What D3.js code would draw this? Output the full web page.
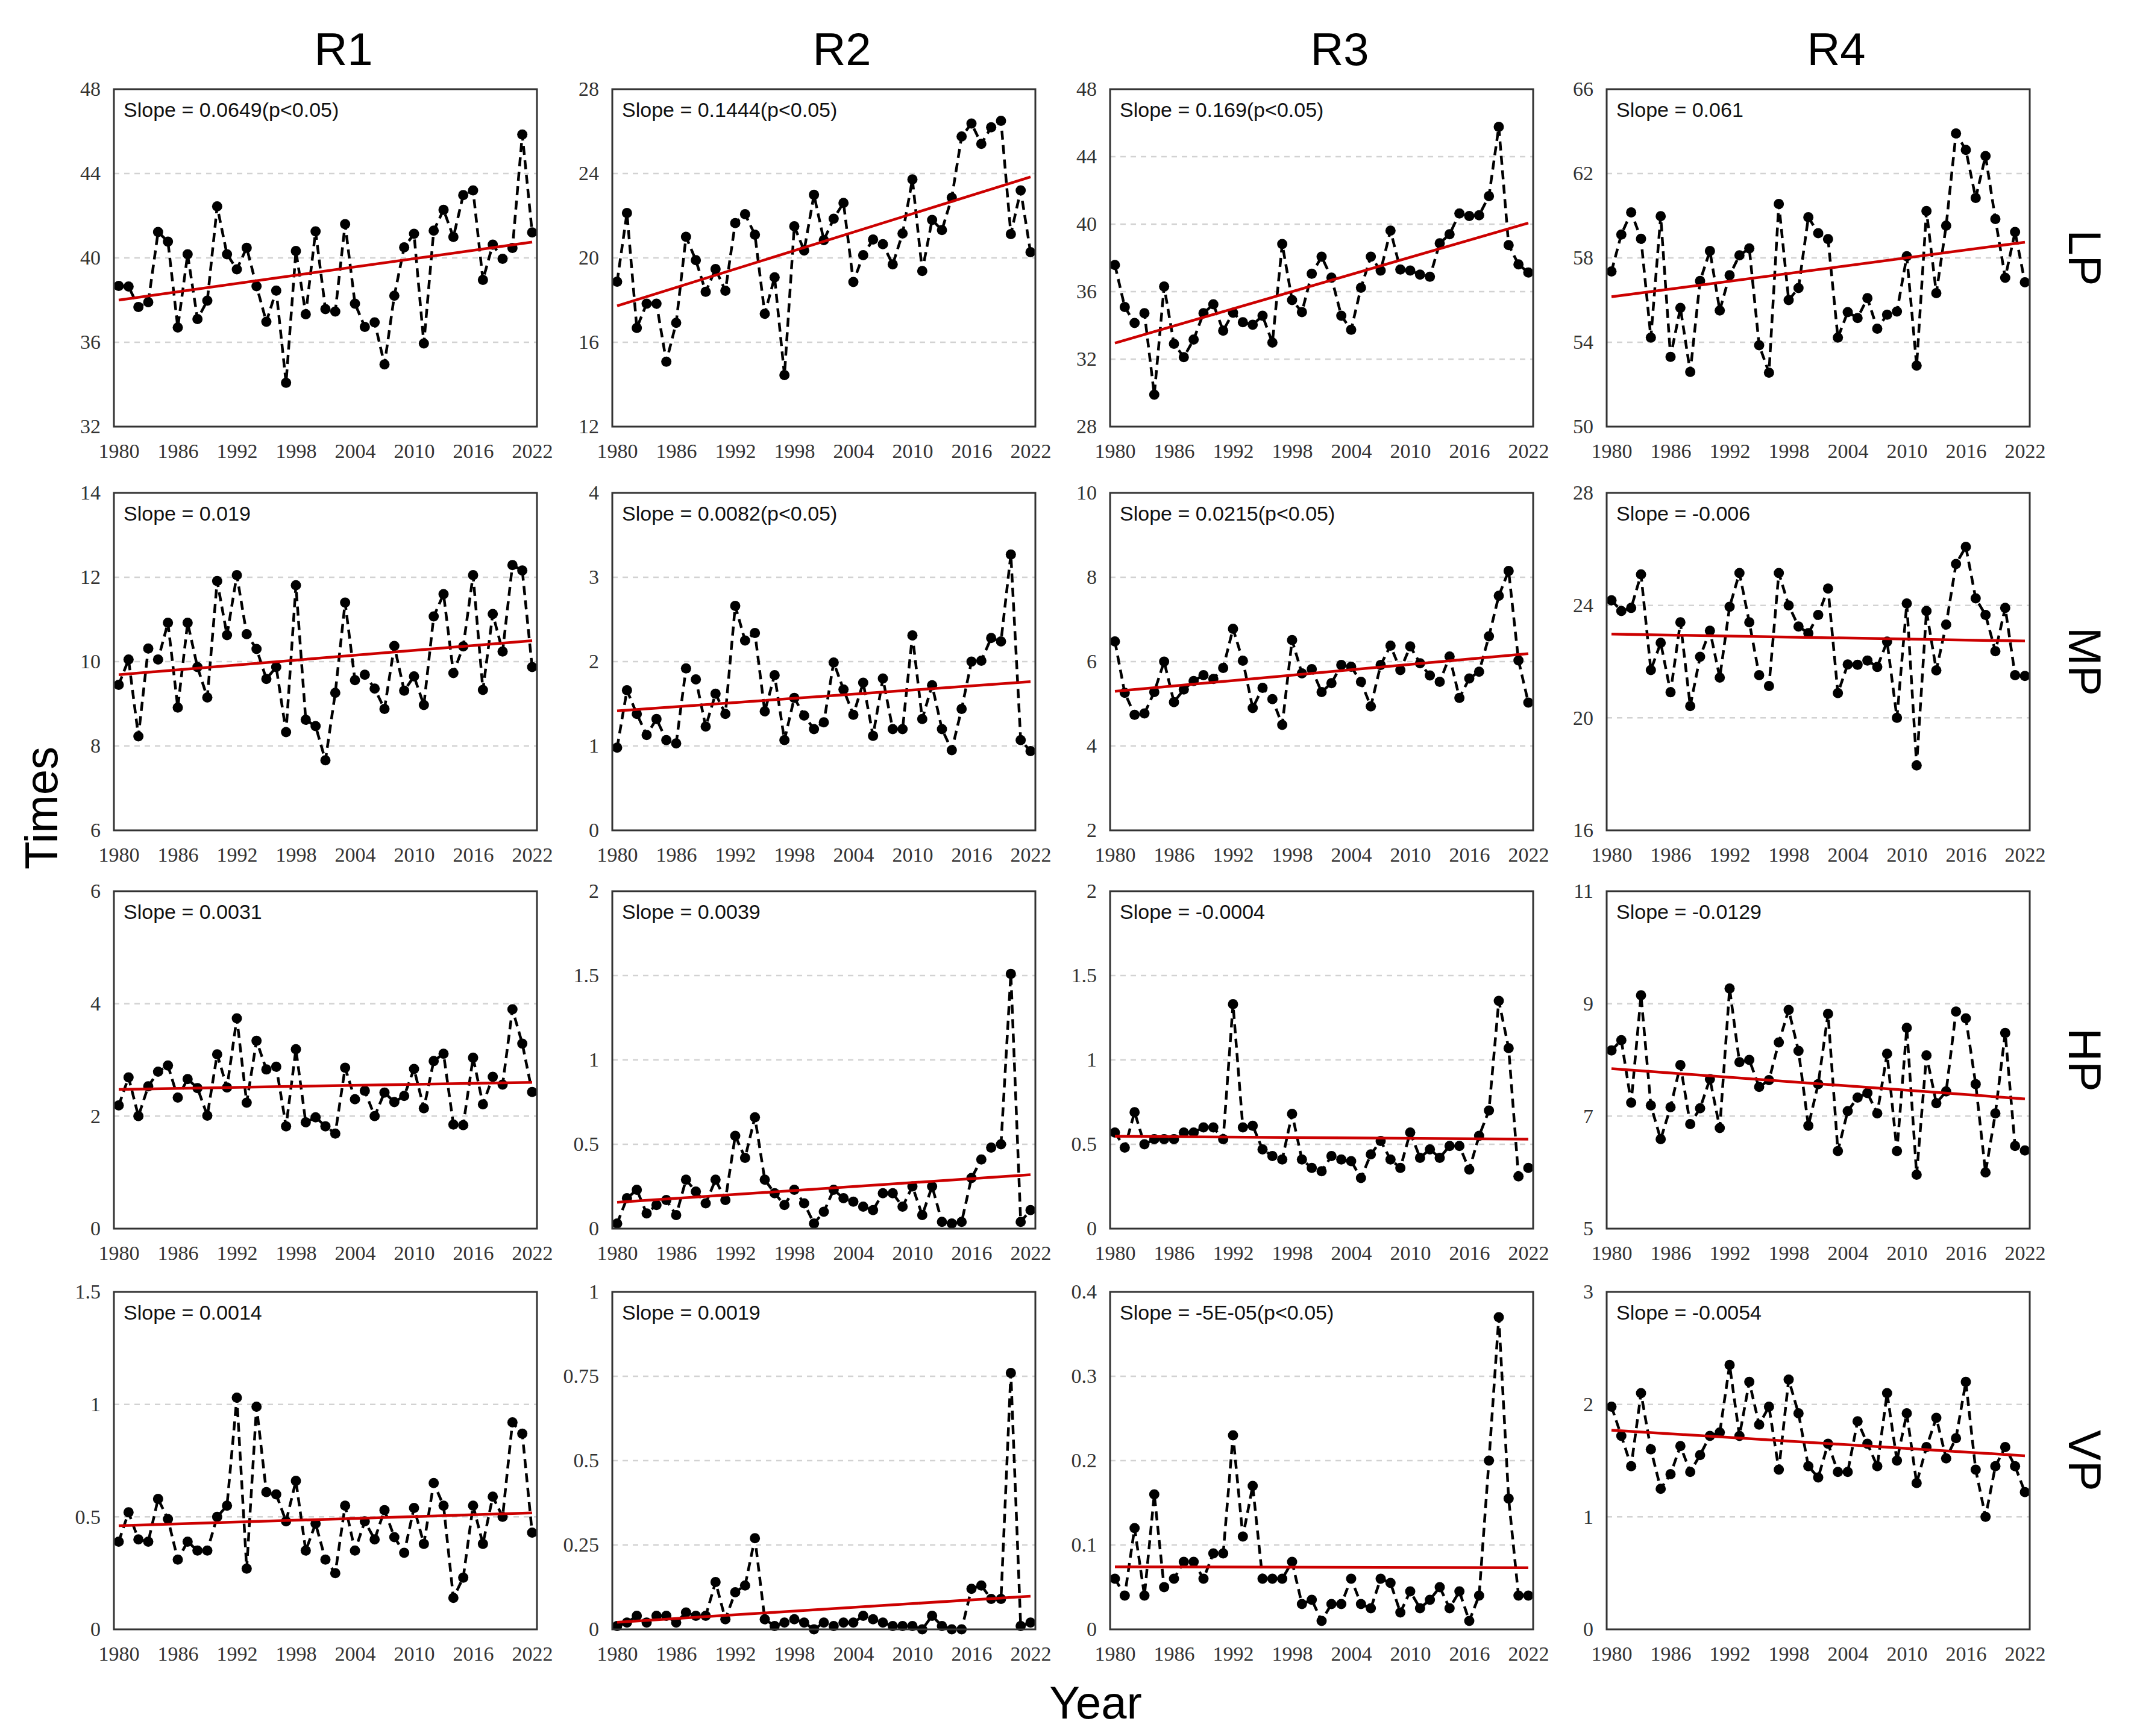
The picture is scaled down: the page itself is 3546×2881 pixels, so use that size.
<!DOCTYPE html>
<html>
<head>
<meta charset="utf-8">
<script src="https://cdn.jsdelivr.net/npm/d3@7/dist/d3.min.js"></script>
<style>
  body { margin: 0; background: #fff; }
</style>
</head>
<body>
<div class="chart"></div>
<script>
var svgWidth = 3546;
var svgHeight = 2881;

// years on the x axis
var years = [1980, 1981, 1982, 1983, 1984, 1985, 1986, 1987, 1988, 1989,
  1990, 1991, 1992, 1993, 1994, 1995, 1996, 1997, 1998, 1999,
  2000, 2001, 2002, 2003, 2004, 2005, 2006, 2007, 2008, 2009,
  2010, 2011, 2012, 2013, 2014, 2015, 2016, 2017, 2018, 2019,
  2020, 2021, 2022];
var yearTicks = [1980, 1986, 1992, 1998, 2004, 2010, 2016, 2022];

var regions = ["R1", "R2", "R3", "R4"];
var levels = ["LP", "MP", "HP", "VP"];

// LP row
var lpR1 = [38.67, 38.64, 37.67, 37.9, 41.23, 40.77, 36.7, 40.17, 37.1, 37.97,
  42.44, 40.17, 39.46, 40.48, 38.66, 36.97, 38.45, 34.08, 40.33, 37.33,
  41.26, 37.57, 37.46, 41.6, 37.83, 36.73, 36.94, 34.95, 38.21, 40.5,
  41.14, 35.94, 41.29, 42.28, 40.99, 42.98, 43.2, 38.96, 40.63, 39.96,
  40.47, 45.85, 41.21];
var lpR2 = [18.87, 22.13, 16.68, 17.83, 17.83, 15.08, 16.92, 21.0, 19.89, 18.39,
  19.47, 18.44, 21.65, 22.07, 21.1, 17.35, 19.08, 14.44, 21.5, 20.35,
  22.99, 20.84, 21.86, 22.61, 18.86, 20.13, 20.87, 20.65, 19.69, 21.16,
  23.72, 19.38, 21.8, 21.32, 22.86, 25.76, 26.37, 25.41, 26.19, 26.5,
  21.13, 23.2, 20.27];
var lpR3 = [37.58, 35.09, 34.14, 34.72, 29.89, 36.3, 32.91, 32.12, 33.16, 34.72,
  35.25, 33.69, 34.75, 34.19, 34.04, 34.57, 32.98, 38.82, 35.5, 34.79,
  37.06, 38.07, 36.83, 34.57, 33.74, 36.23, 38.07, 37.25, 39.62, 37.31,
  37.25, 37.01, 36.88, 38.87, 39.4, 40.63, 40.48, 40.53, 41.66, 45.77,
  38.76, 37.62, 37.13];
var lpR4 = [57.36, 59.11, 60.16, 58.91, 54.22, 59.98, 53.31, 55.63, 52.59, 56.91,
  58.33, 55.51, 57.18, 58.12, 58.45, 53.86, 52.56, 60.56, 56.0, 56.57,
  59.93, 59.17, 58.89, 54.22, 55.43, 55.15, 56.09, 54.64, 55.31, 55.46,
  58.08, 52.89, 60.22, 56.33, 59.53, 63.9, 63.12, 60.84, 62.83, 59.84,
  57.06, 59.23, 56.84];

// MP row
var mpR1 = [9.45, 10.05, 8.23, 10.31, 10.05, 10.92, 8.91, 10.92, 9.87, 9.15,
  11.91, 10.63, 12.05, 10.65, 10.3, 9.59, 9.87, 8.33, 11.81, 8.62,
  8.47, 7.66, 9.26, 11.4, 9.56, 9.69, 9.36, 8.88, 10.37, 9.31,
  9.65, 8.97, 11.07, 11.6, 9.73, 10.36, 12.05, 9.33, 11.13, 10.24,
  12.29, 12.16, 9.87];
var mpR2 = [0.98, 1.66, 1.38, 1.13, 1.32, 1.07, 1.03, 1.92, 1.79, 1.23,
  1.62, 1.38, 2.66, 2.25, 2.34, 1.41, 1.84, 1.07, 1.57, 1.36,
  1.2, 1.28, 1.99, 1.67, 1.37, 1.75, 1.12, 1.8, 1.2, 1.2,
  2.31, 1.32, 1.72, 1.2, 0.95, 1.44, 2.0, 2.01, 2.28, 2.24,
  3.27, 1.07, 0.94];
var mpR3 = [6.48, 5.26, 4.74, 4.77, 5.28, 6.0, 5.04, 5.34, 5.54, 5.68,
  5.59, 5.85, 6.78, 6.02, 4.9, 5.38, 5.11, 4.5, 6.51, 5.72,
  5.82, 5.28, 5.49, 5.92, 5.88, 5.52, 4.94, 5.92, 6.38, 5.8,
  6.36, 5.96, 5.67, 5.52, 6.12, 5.14, 5.6, 5.76, 6.6, 7.56,
  8.15, 6.03, 5.03];
var mpR4 = [24.18, 23.8, 23.91, 25.1, 21.7, 22.67, 20.91, 23.4, 20.42, 22.17,
  23.1, 21.43, 23.95, 25.15, 23.4, 21.52, 21.13, 25.15, 24.0, 23.25,
  23.01, 23.66, 24.6, 20.88, 21.9, 21.89, 22.04, 21.81, 22.71, 20.0,
  24.07, 18.31, 23.8, 21.69, 23.32, 25.47, 26.08, 24.25, 23.66, 22.37,
  23.91, 21.52, 21.49];

// HP row
var hpR1 = [2.19, 2.69, 2.0, 2.53, 2.79, 2.9, 2.33, 2.66, 2.5, 2.01,
  3.1, 2.51, 3.74, 2.24, 3.34, 2.83, 2.88, 1.82, 3.19, 1.89,
  1.98, 1.82, 1.69, 2.86, 2.3, 2.45, 2.0, 2.42, 2.25, 2.36,
  2.84, 2.14, 2.98, 3.11, 1.85, 1.84, 3.04, 2.21, 2.7, 2.56,
  3.9, 3.29, 2.43];
var hpR2 = [0.03, 0.18, 0.23, 0.09, 0.14, 0.17, 0.08, 0.29, 0.22, 0.15,
  0.29, 0.17, 0.55, 0.42, 0.66, 0.29, 0.21, 0.14, 0.23, 0.15,
  0.03, 0.1, 0.23, 0.18, 0.16, 0.13, 0.11, 0.21, 0.21, 0.13,
  0.25, 0.08, 0.25, 0.04, 0.03, 0.04, 0.3, 0.41, 0.48, 0.5,
  1.51, 0.04, 0.11];
var hpR3 = [0.57, 0.48, 0.69, 0.5, 0.53, 0.53, 0.53, 0.57, 0.57, 0.6,
  0.6, 0.53, 1.33, 0.6, 0.61, 0.47, 0.43, 0.41, 0.68, 0.41,
  0.36, 0.34, 0.43, 0.41, 0.4, 0.3, 0.44, 0.52, 0.41, 0.36,
  0.57, 0.42, 0.47, 0.42, 0.49, 0.49, 0.35, 0.55, 0.7, 1.35,
  1.07, 0.31, 0.36];
var hpR4 = [8.17, 8.35, 7.24, 9.15, 7.19, 6.59, 7.16, 7.91, 6.86, 7.14,
  7.66, 6.79, 9.27, 7.96, 8.0, 7.52, 7.64, 8.31, 8.89, 8.16,
  6.83, 7.57, 8.82, 6.38, 7.09, 7.33, 7.41, 7.05, 8.11, 6.38,
  8.57, 5.96, 8.08, 7.23, 7.44, 8.86, 8.74, 7.57, 6.0, 7.05,
  8.48, 6.47, 6.39];

// VP row
var vpR1 = [0.39, 0.52, 0.4, 0.39, 0.58, 0.49, 0.31, 0.39, 0.35, 0.35,
  0.5, 0.55, 1.03, 0.27, 0.99, 0.61, 0.6, 0.48, 0.66, 0.35,
  0.47, 0.31, 0.25, 0.55, 0.35, 0.48, 0.4, 0.53, 0.41, 0.34,
  0.54, 0.38, 0.65, 0.55, 0.14, 0.23, 0.55, 0.38, 0.59, 0.5,
  0.92, 0.87, 0.43];
var vpR2 = [0.01, 0.02, 0.04, 0.02, 0.04, 0.04, 0.02, 0.05, 0.04, 0.04,
  0.14, 0.03, 0.11, 0.13, 0.27, 0.03, 0.01, 0.02, 0.03, 0.02,
  0.0, 0.02, 0.01, 0.02, 0.02, 0.04, 0.03, 0.02, 0.01, 0.01,
  0.01, 0.0, 0.04, 0.01, 0.0, 0.0, 0.12, 0.13, 0.09, 0.09,
  0.76, 0.01, 0.02];
var vpR3 = [0.06, 0.04, 0.12, 0.04, 0.16, 0.05, 0.06, 0.08, 0.08, 0.06,
  0.09, 0.09, 0.23, 0.11, 0.17, 0.06, 0.06, 0.06, 0.08, 0.03,
  0.035, 0.01, 0.03, 0.03, 0.06, 0.03, 0.025, 0.06, 0.055, 0.02,
  0.045, 0.025, 0.035, 0.05, 0.025, 0.045, 0.01, 0.04, 0.2, 0.37,
  0.155, 0.04, 0.04];
var vpR4 = [1.98, 1.72, 1.45, 2.1, 1.6, 1.25, 1.38, 1.63, 1.4, 1.55,
  1.72, 1.75, 2.35, 1.72, 2.2, 1.82, 1.98, 1.42, 2.22, 1.92,
  1.45, 1.35, 1.65, 1.4, 1.4, 1.85, 1.65, 1.45, 2.1, 1.5,
  1.92, 1.3, 1.62, 1.88, 1.52, 1.7, 2.2, 1.42, 1.0, 1.45,
  1.62, 1.45, 1.22];

// y tick labels per panel
var lpTicks = [[32, 36, 40, 44, 48], [12, 16, 20, 24, 28], [28, 32, 36, 40, 44, 48], [50, 54, 58, 62, 66]];
var mpTicks = [[6, 8, 10, 12, 14], [0, 1, 2, 3, 4], [2, 4, 6, 8, 10], [16, 20, 24, 28]];
var hpTicks = [[0, 2, 4, 6], [0, 0.5, 1, 1.5, 2], [0, 0.5, 1, 1.5, 2], [5, 7, 9, 11]];
var vpTicks = [[0, 0.5, 1, 1.5], [0, 0.25, 0.5, 0.75, 1], [0, 0.1, 0.2, 0.3, 0.4], [0, 1, 2, 3]];

// slope annotations
var lpSlopes = ["Slope = 0.0649(p<0.05)", "Slope = 0.1444(p<0.05)", "Slope = 0.169(p<0.05)", "Slope = 0.061"];
var mpSlopes = ["Slope = 0.019", "Slope = 0.0082(p<0.05)", "Slope = 0.0215(p<0.05)", "Slope = -0.006"];
var hpSlopes = ["Slope = 0.0031", "Slope = 0.0039", "Slope = -0.0004", "Slope = -0.0129"];
var vpSlopes = ["Slope = 0.0014", "Slope = 0.0019", "Slope = -5E-05(p<0.05)", "Slope = -0.0054"];

var valueGrid = [[lpR1, lpR2, lpR3, lpR4], [mpR1, mpR2, mpR3, mpR4],
  [hpR1, hpR2, hpR3, hpR4], [vpR1, vpR2, vpR3, vpR4]];
var tickGrid = [lpTicks, mpTicks, hpTicks, vpTicks];
var slopeGrid = [lpSlopes, mpSlopes, hpSlopes, vpSlopes];

// panel layout
var panelWidth = 702;
var panelHeight = 560;
var colLeft = [189, 1016, 1842, 2666];
var rowTop = [148, 818, 1479, 2144];

var tickFont = "'Liberation Serif', 'DejaVu Serif', serif";
var sansFont = "'Liberation Sans', Arial, sans-serif";

var svg = d3
  .select(".chart")
  .append("svg")
  .attr("width", svgWidth)
  .attr("height", svgHeight);

svg.append("rect")
  .attr("width", svgWidth)
  .attr("height", svgHeight)
  .attr("fill", "#fff");

// least squares trend
function linearFit(values) {
  var mx = d3.mean(years);
  var my = d3.mean(values);
  var sxy = 0, sxx = 0;
  values.forEach(function(v, k) {
    sxy += (years[k] - mx) * (v - my);
    sxx += (years[k] - mx) * (years[k] - mx);
  });
  var b = sxy / sxx;
  return function(t) { return my + b * (t - mx); };
}

levels.forEach(function(level, i) {
  regions.forEach(function(region, j) {
    var values = valueGrid[i][j];
    var ticks = tickGrid[i][j];

    var chartGroup = svg.append("g")
      .attr("transform", `translate(${colLeft[j]}, ${rowTop[i]})`);

    var xScale = d3.scaleLinear()
      .domain([1980, 2022])
      .range([8, panelWidth - 8]);

    var yScale = d3.scaleLinear()
      .domain(d3.extent(ticks))
      .range([panelHeight, 0]);

    // dashed grid lines on the inner ticks
    chartGroup.selectAll(".grid")
      .data(ticks.slice(1, -1))
      .enter()
      .append("line")
      .attr("x1", 0)
      .attr("x2", panelWidth)
      .attr("y1", d => yScale(d))
      .attr("y2", d => yScale(d))
      .attr("stroke", "#d2d2d2")
      .attr("stroke-width", 2.5)
      .attr("stroke-dasharray", "9,8");

    // dashed series line
    var line = d3.line()
      .x((d, k) => xScale(years[k]))
      .y(d => yScale(d));

    chartGroup.append("path")
      .datum(values)
      .attr("d", line)
      .attr("fill", "none")
      .attr("stroke", "#000")
      .attr("stroke-width", 4.5)
      .attr("stroke-dasharray", "15,9");

    chartGroup.selectAll("circle")
      .data(values)
      .enter()
      .append("circle")
      .attr("cx", (d, k) => xScale(years[k]))
      .attr("cy", d => yScale(d))
      .attr("r", 8.5)
      .attr("fill", "#000");

    // red trend line
    var fit = linearFit(values);
    chartGroup.append("line")
      .attr("x1", xScale(1980))
      .attr("x2", xScale(2022))
      .attr("y1", yScale(fit(1980)))
      .attr("y2", yScale(fit(2022)))
      .attr("stroke", "#cc0000")
      .attr("stroke-width", 4.5);

    // frame
    chartGroup.append("rect")
      .attr("width", panelWidth)
      .attr("height", panelHeight)
      .attr("fill", "none")
      .attr("stroke", "#333")
      .attr("stroke-width", 3);

    // axes
    var leftAxis = d3.axisLeft(yScale)
      .tickValues(ticks)
      .tickSize(0)
      .tickPadding(22)
      .tickFormat(d3.format("~g"));

    var yAxis = chartGroup.append("g").call(leftAxis);
    yAxis.select(".domain").remove();
    yAxis.selectAll("text")
      .attr("font-family", tickFont)
      .attr("font-size", 34)
      .attr("fill", "#333");

    var bottomAxis = d3.axisBottom(xScale)
      .tickValues(yearTicks)
      .tickSize(0)
      .tickPadding(28)
      .tickFormat(d3.format("d"));

    var xAxis = chartGroup.append("g")
      .attr("transform", `translate(0, ${panelHeight})`)
      .call(bottomAxis);
    xAxis.select(".domain").remove();
    xAxis.selectAll("text")
      .attr("font-family", tickFont)
      .attr("font-size", 34)
      .attr("fill", "#333");

    // slope label
    chartGroup.append("text")
      .attr("x", 16)
      .attr("y", 46)
      .attr("font-family", sansFont)
      .attr("font-size", 34)
      .attr("fill", "#111")
      .text(slopeGrid[i][j]);
  });
});

// column headers
regions.forEach(function(region, j) {
  svg.append("text")
    .attr("x", colLeft[j] + panelWidth / 2 + 30)
    .attr("y", 108)
    .attr("text-anchor", "middle")
    .attr("font-family", sansFont)
    .attr("font-size", 76)
    .attr("fill", "#000")
    .text(region);
});

// row labels on the right
levels.forEach(function(level, i) {
  var cy = rowTop[i] + panelHeight / 2;
  svg.append("text")
    .attr("transform", `translate(3460, ${cy}) rotate(90)`)
    .attr("text-anchor", "middle")
    .attr("dy", "0.35em")
    .attr("font-family", sansFont)
    .attr("font-size", 76)
    .attr("fill", "#000")
    .text(level);
});

// axis titles
svg.append("text")
  .attr("transform", "translate(68, 1341) rotate(-90)")
  .attr("text-anchor", "middle")
  .attr("dy", "0.35em")
  .attr("font-family", sansFont)
  .attr("font-size", 76)
  .attr("fill", "#000")
  .text("Times");

svg.append("text")
  .attr("x", 1818)
  .attr("y", 2852)
  .attr("text-anchor", "middle")
  .attr("font-family", sansFont)
  .attr("font-size", 76)
  .attr("fill", "#000")
  .text("Year");
</script>
</body>
</html>
